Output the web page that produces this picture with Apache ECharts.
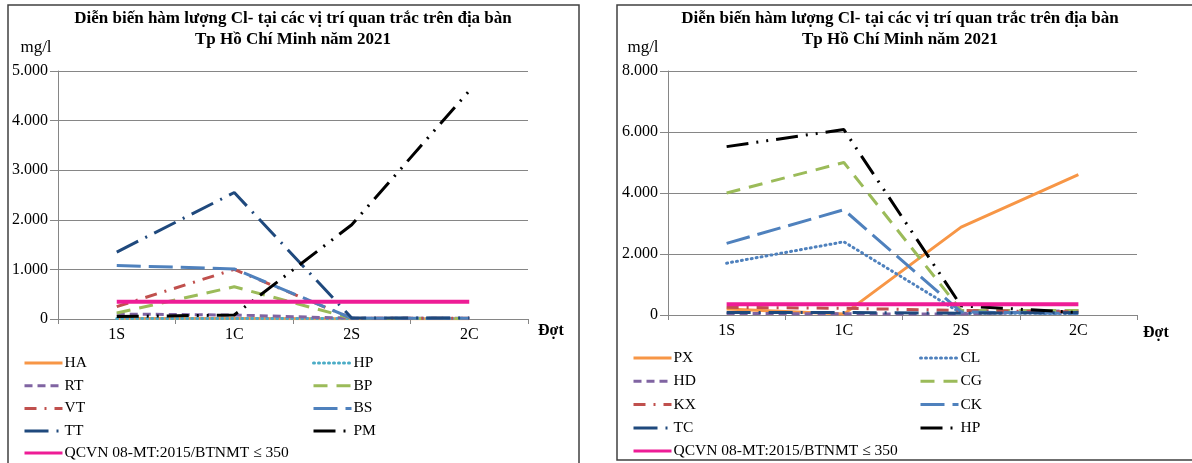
<!DOCTYPE html>
<html><head><meta charset="utf-8">
<script src="https://cdn.jsdelivr.net/npm/echarts@6/dist/echarts.min.js"></script>
<style>html,body{margin:0;padding:0;background:#fff}#c{width:1192px;height:463px}</style>
</head><body><div id="c"></div>
<script>
const categories = ['1S', '1C', '2S', '2C'];
// Left chart
const HA = [8, 8, 5, 5];
const HP1 = [12, 12, 8, 8];
const RT = [100, 80, 15, 15];
const BP = [120, 650, 12, 12];
const VT = [250, 1000, 15, 15];
const BS = [1080, 1010, 15, 15];
const TT = [1350, 2550, 20, 20];
const PM = [50, 80, 1900, 4600];
const QCVN1 = [350, 350, 350, 350];
const leftTicks = [0, 1000, 2000, 3000, 4000, 5000];
// Right chart
const PX = [200, 30, 2880, 4600];
const CL = [1700, 2400, 60, 50];
const HD = [50, 40, 30, 150];
const CG = [4000, 5000, 150, 150];
const KX = [250, 220, 150, 100];
const CK = [2350, 3450, 100, 50];
const TC = [80, 80, 60, 80];
const HP2 = [5520, 6080, 300, 80];
const QCVN2 = [350, 350, 350, 350];
const rightTicks = [0, 2000, 4000, 6000, 8000];

const qcvnLabel = 'QCVN 08-MT:2015/BTNMT \u2264 350';
const titleText = 'Diễn biến hàm lượng Cl- tại các vị trí quan trắc trên địa bàn\nTp Hồ Chí Minh năm 2021';
const serif = 'Liberation Serif, Times New Roman, serif';

const C = {orange:'#F79646', cyan:'#4BACC6', purple:'#8064A2', green:'#9BBB59', red:'#C0504D', blue:'#4F81BD', navy:'#1F497D', black:'#000000', pink:'#EE1C96'};
const ST = {
  solid: 'solid',
  dot: [1, 4],
  dash: [8, 5],
  longDash: [14, 9],
  dashDot: [12, 8, 2, 8],
  lgDash: [24, 8],
  lgDashDot: [24, 8, 2, 8],
  lgDashDotDot: [22, 8, 2, 8, 2, 8]
};

function fmt(v){ return String(v).replace(/\B(?=(\d{3})+(?!\d))/g, '.'); }

function mk(name, data, color, type, idx, width){
  return {
    name: name, type: 'line', data: data, xAxisIndex: idx, yAxisIndex: idx,
    symbol: 'none', silent: true, animation: false,
    lineStyle: {color: color, width: width || 3, type: type, cap: type === ST.dot ? 'round' : 'butt'},
    itemStyle: {color: color}
  };
}

const series = [
  mk('HA', HA, C.orange, ST.solid, 0),
  mk('HP', HP1, C.cyan, ST.dot, 0),
  mk('RT', RT, C.purple, ST.dash, 0),
  mk('BP', BP, C.green, ST.longDash, 0),
  mk('VT', VT, C.red, ST.dashDot, 0),
  mk('BS', BS, C.blue, ST.lgDash, 0),
  mk('TT', TT, C.navy, ST.lgDashDot, 0),
  mk('PM', PM, C.black, ST.lgDashDotDot, 0),
  mk('QCVN_L', QCVN1, C.pink, ST.solid, 0, 4),
  mk('PX', PX, C.orange, ST.solid, 1),
  mk('CL', CL, C.blue, ST.dot, 1),
  mk('HD', HD, C.purple, ST.dash, 1),
  mk('CG', CG, C.green, ST.longDash, 1),
  mk('KX', KX, C.red, ST.dashDot, 1),
  mk('CK', CK, C.blue, ST.lgDash, 1),
  mk('TC', TC, C.navy, ST.lgDashDot, 1),
  mk('HP_R', HP2, C.black, ST.lgDashDotDot, 1),
  mk('QCVN_R', QCVN2, C.pink, ST.solid, 1, 4)
];

function legendFmt(n){
  if (n === 'QCVN_L' || n === 'QCVN_R') return qcvnLabel;
  if (n === 'HP_R') return 'HP';
  return n;
}
function lg(left, top, data, gap){
  return {
    left: left, top: top, orient: 'vertical', data: data, selectedMode: false,
    padding: 0, itemWidth: 38, itemHeight: 16, itemGap: gap,
    itemStyle: {color: 'rgba(0,0,0,0)', borderWidth: 0, opacity: 0},
    lineStyle: {width: 3},
    textStyle: {fontFamily: serif, fontSize: 15.5, color: '#000', padding: [0,0,0,-3]},
    formatter: legendFmt
  };
}

function xAx(idx){
  return {
    type: 'category', gridIndex: idx, data: categories, boundaryGap: true,
    axisLine: {lineStyle: {color: '#868686', width: 1}},
    axisTick: {show: true, alignWithLabel: false, length: 5, lineStyle: {color: '#868686'}},
    axisLabel: {color: '#000', fontFamily: serif, fontSize: 16, margin: 8},
    splitLine: {show: false}
  };
}
function yAx(idx, max, interval){
  return {
    type: 'value', gridIndex: idx, min: 0, max: max, interval: interval,
    axisLine: {show: true, lineStyle: {color: '#868686', width: 1}},
    axisTick: {show: true, length: 8, lineStyle: {color: '#868686'}},
    axisLabel: {color: '#000', fontFamily: serif, fontSize: 16, margin: 10, formatter: fmt},
    splitLine: {show: true, lineStyle: {color: '#868686', width: 1}}
  };
}

const option = {
  backgroundColor: '#fff',
  animation: false,
  title: [
    {text: titleText, left: 288, top: 3, textAlign: 'center',
     textStyle: {fontFamily: serif, fontSize: 17, fontWeight: 'bold', color: '#000', lineHeight: 21}},
    {text: titleText, left: 895, top: 3, textAlign: 'center',
     textStyle: {fontFamily: serif, fontSize: 17, fontWeight: 'bold', color: '#000', lineHeight: 21}}
  ],
  grid: [
    {left: 58, top: 71, width: 470, height: 248},
    {left: 668, top: 71, width: 469, height: 244}
  ],
  xAxis: [xAx(0), xAx(1)],
  yAxis: [yAx(0, leftTicks[leftTicks.length-1], leftTicks[1]-leftTicks[0]), yAx(1, rightTicks[rightTicks.length-1], rightTicks[1]-rightTicks[0])],
  legend: [
    lg(23, 355, ['HA', 'RT', 'VT', 'TT'], 6.7),
    lg(23, 445, ['QCVN_L'], 6.7),
    lg(312, 355, ['HP', 'BP', 'BS', 'PM'], 6.7),
    lg(632, 350, ['PX', 'HD', 'KX', 'TC'], 7.3),
    lg(632, 443, ['QCVN_R'], 7.3),
    lg(919, 350, ['CL', 'CG', 'CK', 'HP_R'], 7.3)
  ],
  graphic: [
    {type: 'rect', shape: {x: 8, y: 5, width: 571, height: 470}, style: {fill: 'none', stroke: '#404040', lineWidth: 1.5}, silent: true, z: -1},
    {type: 'rect', shape: {x: 617, y: 5, width: 580, height: 455}, style: {fill: 'none', stroke: '#404040', lineWidth: 1.5}, silent: true, z: -1},
    {type: 'text', x: 36, y: 48, style: {text: 'mg/l', font: '17px ' + serif, fill: '#000', textAlign: 'center', textVerticalAlign: 'middle'}},
    {type: 'text', x: 643, y: 48, style: {text: 'mg/l', font: '17px ' + serif, fill: '#000', textAlign: 'center', textVerticalAlign: 'middle'}},
    {type: 'text', x: 538, y: 331, style: {text: 'Đợt', font: 'bold 16px ' + serif, fill: '#000', textAlign: 'left', textVerticalAlign: 'middle'}},
    {type: 'text', x: 1143, y: 333, style: {text: 'Đợt', font: 'bold 16px ' + serif, fill: '#000', textAlign: 'left', textVerticalAlign: 'middle'}}
  ],
  series: series
};
const chart = echarts.init(document.getElementById('c'), null, {renderer: 'canvas'});
chart.setOption(option);
</script></body></html>
